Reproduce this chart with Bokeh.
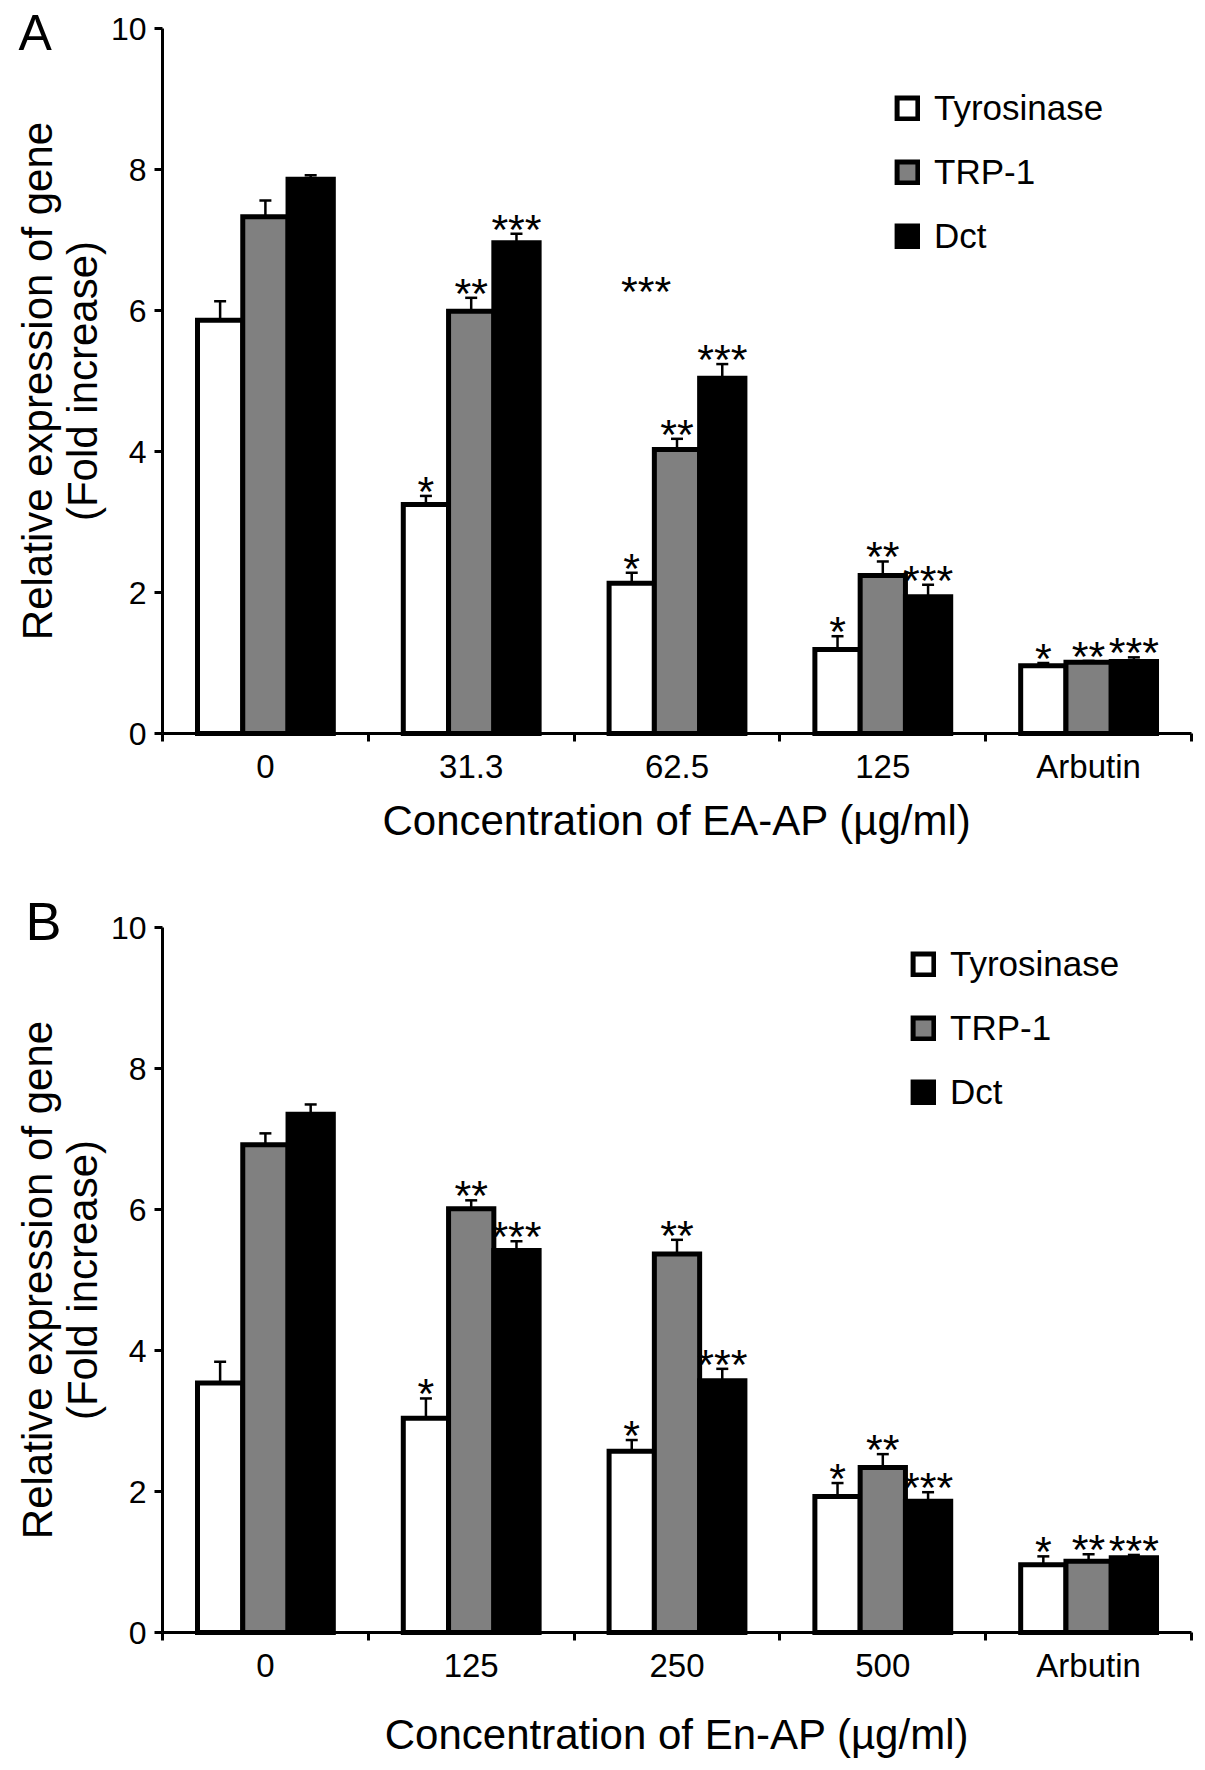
from bokeh.plotting import figure
from bokeh.models import ColumnDataSource, FixedTicker, Whisker, TeeHead, Legend, LegendItem, Range1d
from bokeh.layouts import column
from bokeh.core.properties import value
from bokeh.embed import file_html
from bokeh.resources import INLINE

FONT = "Liberation Sans"

# panel A : EA-AP
groups_a = ["0", "31.3", "62.5", "125", "Arbutin"]
tyr_a = [5.86, 3.25, 2.13, 1.19, 0.96]
tyr_a_err = [0.27, 0.12, 0.15, 0.19, 0.04]
trp_a = [7.33, 5.99, 4.03, 2.24, 1.01]
trp_a_err = [0.23, 0.19, 0.15, 0.20, 0.02]
dct_a = [7.86, 6.96, 5.04, 1.94, 1.02]
dct_a_err = [0.06, 0.13, 0.20, 0.17, 0.06]
stray_a_x = [2.35]
stray_a_y = [6.28]
stray_a_text = ["***"]

# panel B : En-AP
groups_b = ["0", "125", "250", "500", "Arbutin"]
tyr_b = [3.54, 3.04, 2.57, 1.93, 0.96]
tyr_b_err = [0.30, 0.28, 0.16, 0.19, 0.12]
trp_b = [6.92, 6.01, 5.37, 2.34, 1.01]
trp_b_err = [0.16, 0.12, 0.20, 0.19, 0.10]
dct_b = [7.35, 5.42, 3.57, 1.86, 1.06]
dct_b_err = [0.14, 0.13, 0.17, 0.13, 0.04]

series = ["Tyrosinase", "TRP-1", "Dct"]
colors = ["white", "#808080", "black"]
marks = ["*", "**", "***"]
y_ticks = [0, 2, 4, 6, 8, 10]
y_max = 10

BAR_W = 0.22
STAR_SIZE = "43px"

# page layout (pixels)
W = 1197
AX_LEFT = 162      # y axis position
AX_RIGHT = 1191    # end of x axis
FRAME_H = 705      # length of y axis


def make_panel(groups, vals, errs, letter, xlabel, height, top, leg_xy, letter_px,
               letter_size, xlabel_standoff, stray=None):
    n = len(groups)
    centers = [i + 0.5 for i in range(n)]
    px_x = (AX_RIGHT - AX_LEFT) / n
    px_y = FRAME_H / y_max
    bottom = height - top - FRAME_H
    p = figure(width=W, height=height,
               x_range=Range1d(-AX_LEFT / px_x, (W - AX_LEFT) / px_x),
               y_range=Range1d(-bottom / px_y, y_max + top / px_y),
               output_backend="svg", toolbar_location=None, tools="",
               min_border=0)
    p.xgrid.visible = False
    p.ygrid.visible = False
    p.outline_line_color = None

    items = []
    for k, (name, color, mark) in enumerate(zip(series, colors, marks)):
        off = (k - 1) * BAR_W
        v = vals[k]
        e = errs[k]
        src = ColumnDataSource(data=dict(
            x=[c + off for c in centers],
            top=v,
            upper=[a + b for a, b in zip(v, e)],
            lower=[a - b for a, b in zip(v, e)],
            mark=[""] + [mark] * (n - 1),
        ))
        r = p.vbar(x="x", top="top", width=BAR_W, bottom=0, source=src,
                   fill_color=color, line_color="black", line_width=5, line_join="miter")
        items.append(LegendItem(label=name, renderers=[r]))
        p.add_layout(Whisker(source=src, base="x", upper="upper", lower="lower",
                             line_color="black", line_width=2.5,
                             upper_head=TeeHead(size=12, line_width=2.5, line_color="black"),
                             lower_head=TeeHead(size=12, line_width=2.5, line_color="black")))
        p.text(x="x", y="upper", text="mark", source=src, text_align="center",
               text_baseline="alphabetic", y_offset=-5, text_color="black",
               text_font=value(FONT), text_font_size=STAR_SIZE)

    if stray is not None:
        sx, sy, st = stray
        p.text(x=sx, y=sy, text=st, text_align="center", text_baseline="alphabetic",
               text_color="black", text_font=value(FONT), text_font_size=STAR_SIZE)

    # panel letter, placed from its pixel position
    lx = (letter_px[0] - AX_LEFT) / px_x
    ly = (top + FRAME_H - letter_px[1]) / px_y
    p.text(x=[lx], y=[ly], text=[letter], text_align="left", text_baseline="alphabetic",
           text_color="black", text_font=value(FONT), text_font_size=letter_size)

    legend = Legend(items=items, location=leg_xy, orientation="vertical",
                    label_text_font=FONT, label_text_font_size="35px",
                    label_text_color="black", glyph_width=26, glyph_height=26,
                    spacing=24, padding=0, margin=0, label_standoff=14,
                    border_line_color=None, background_fill_alpha=0)
    p.add_layout(legend)

    # y axis
    p.yaxis.fixed_location = 0
    p.yaxis.bounds = (0, y_max)
    p.yaxis.ticker = FixedTicker(ticks=y_ticks)
    p.yaxis.axis_line_width = 3
    p.yaxis.major_tick_line_width = 3
    p.yaxis.major_tick_out = 8
    p.yaxis.major_tick_in = 0
    p.yaxis.minor_tick_line_color = None
    p.yaxis.major_label_text_font = FONT
    p.yaxis.major_label_text_font_size = "32px"
    p.yaxis.major_label_text_color = "black"
    p.yaxis.major_label_standoff = 8
    p.yaxis.axis_label = "Relative expression of gene\n(Fold increase)"
    p.yaxis.axis_label_text_font = FONT
    p.yaxis.axis_label_text_font_size = "42px"
    p.yaxis.axis_label_text_font_style = "normal"
    p.yaxis.axis_label_text_color = "black"
    p.yaxis.axis_label_text_line_height = 0.95
    p.yaxis.axis_label_standoff = 2

    # x axis: labels at group centres, ticks at group borders
    p.xaxis.fixed_location = 0
    p.xaxis.bounds = (0, n)
    p.xaxis.ticker = FixedTicker(ticks=centers, minor_ticks=list(range(n + 1)))
    p.xaxis.major_label_overrides = {c: g for c, g in zip(centers, groups)}
    p.xaxis.major_tick_line_color = None
    p.xaxis.major_tick_out = 0
    p.xaxis.major_tick_in = 0
    p.xaxis.minor_tick_line_color = "black"
    p.xaxis.minor_tick_line_width = 3
    p.xaxis.minor_tick_out = 8
    p.xaxis.minor_tick_in = 0
    p.xaxis.axis_line_width = 3
    p.xaxis.major_label_text_font = FONT
    p.xaxis.major_label_text_font_size = "33px"
    p.xaxis.major_label_text_color = "black"
    p.xaxis.major_label_standoff = 6
    p.xaxis.axis_label = xlabel
    p.xaxis.axis_label_text_font = FONT
    p.xaxis.axis_label_text_font_size = "42px"
    p.xaxis.axis_label_text_font_style = "normal"
    p.xaxis.axis_label_text_color = "black"
    p.xaxis.axis_label_standoff = xlabel_standoff
    return p


pa = make_panel(groups_a, [tyr_a, trp_a, dct_a], [tyr_a_err, trp_a_err, dct_a_err],
                "A", "Concentration of EA-AP (\u00b5g/ml)", 878, 28,
                (894, 622), (18, 32), "50px", 9,
                stray=(stray_a_x, stray_a_y, stray_a_text))
pb = make_panel(groups_b, [tyr_b, trp_b, dct_b], [tyr_b_err, trp_b_err, dct_b_err],
                "B", "Concentration of En-AP (\u00b5g/ml)", 884, 49,
                (910, 650), (25, 42), "54px", 24)

layout = column(pa, pb)
open("out.html", "w").write(file_html(layout, INLINE))
